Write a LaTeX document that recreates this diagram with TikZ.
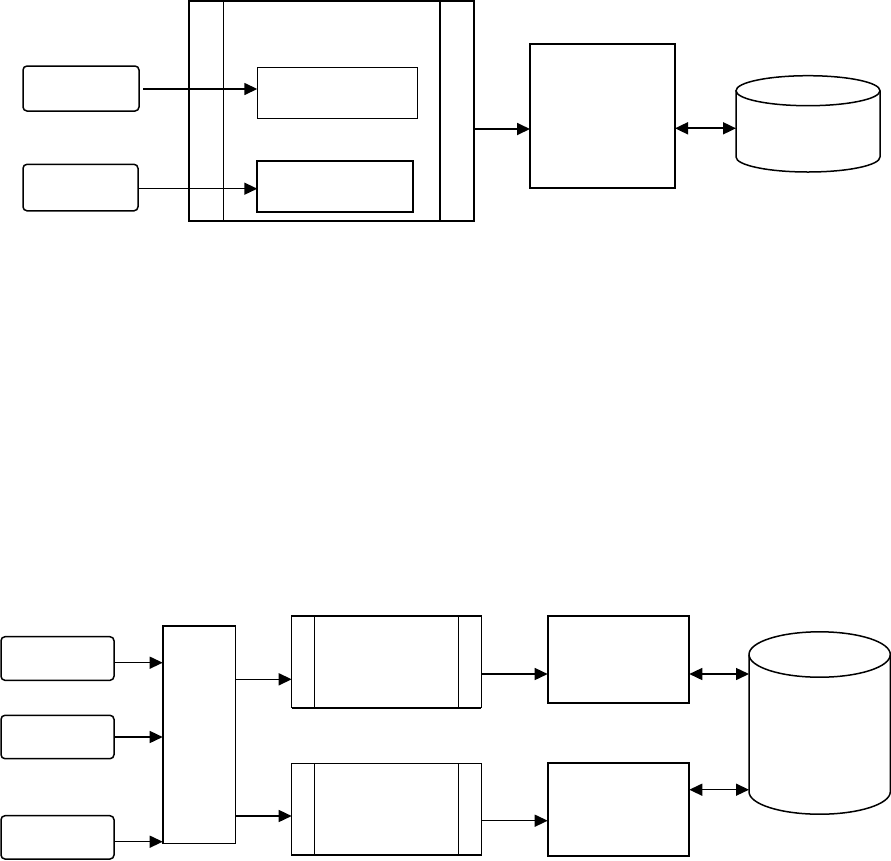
\documentclass[tikz,border=0pt]{standalone}
\usetikzlibrary{arrows.meta,calc}
\begin{document}
\begin{tikzpicture}[x=1pt,y=-1pt,
  thin box/.style={draw,line width=1.5pt,inner sep=0,outer sep=0,anchor=north west},
  thick box/.style={draw,line width=2.2pt,inner sep=0,outer sep=0,anchor=north west},
  rbox/.style={draw,line width=1.5pt,rounded corners=4pt,inner sep=0,outer sep=0,anchor=north west},
  ghost/.style={inner sep=0,outer sep=0,anchor=north west},
  arr/.style={line width=1.5pt,-{Triangle[length=13pt,width=12pt]}},
  darr/.style={line width=1.5pt,{Triangle[length=13pt,width=12pt]}-{Triangle[length=13pt,width=12pt]}},
  sep/.style={line width=1.5pt},
  cyl/.style={line width=1.5pt}]
\useasboundingbox (0,0) rectangle (891,860);
% ---------- top section ----------
\node[rbox,minimum width=116pt,minimum height=45pt] (r1) at (23,66) {};
\node[rbox,minimum width=115pt,minimum height=46.5pt] (r2) at (23,164.3) {};
\node[thick box,minimum width=285.3pt,minimum height=220pt] (cont) at (188.7,1) {};
\draw[sep] ([xshift=34.6pt]cont.north west) -- ([xshift=34.6pt]cont.south west);
\draw[line width=2.2pt] ([xshift=-33.7pt]cont.north east) -- ([xshift=-33.7pt]cont.south east);
\node[thin box,minimum width=160pt,minimum height=51pt] (in1) at (257.3,67.3) {};
\node[thick box,minimum width=156pt,minimum height=51.6pt] (in2) at (257.3,160.7) {};
\node[thick box,minimum width=145pt,minimum height=143.4pt] (b1) at (530,44.3) {};
% cylinder 1
\node[ghost,minimum width=144pt,minimum height=96pt] (db1) at (736,75.7) {};
\draw[cyl,fill=white] (736,90.7) -- (736,157) arc[start angle=180,end angle=360,x radius=72pt,y radius=15pt] -- (880,90.7);
\draw[cyl] (808,90.7) ellipse [x radius=72pt,y radius=15pt];
% connectors
\draw[arr,shorten <=4.3pt] (r1.east |- 0,89) -- (in1.west |- 0,89);
\draw[arr] (r2.east |- 0,188.7) -- (in2.west |- 0,188.7);
\draw[arr,line width=1.8pt] (cont.east |- 0,129) -- (b1.west |- 0,129);
\draw[darr,line width=1.8pt] (b1.east |- 0,128.3) -- (db1.west |- 0,128.3);
% ---------- bottom section ----------
\node[rbox,minimum width=113pt,minimum height=43.6pt] (r3) at (1,636.7) {};
\node[rbox,minimum width=113pt,minimum height=43.4pt] (r4) at (1,715.3) {};
\node[rbox,minimum width=113pt,minimum height=43.3pt] (r5) at (1,815.7) {};
\node[thin box,minimum width=73pt,minimum height=217.6pt] (T) at (162.7,625.7) {};
\draw[line width=2.2pt] (T.north west) -- (T.south west);
\draw[line width=2.2pt] (T.north west) -- (T.north east);
\node[thin box,minimum width=189.6pt,minimum height=92pt] (p1) at (291.7,615.7) {};
\draw[line width=2.2pt] (p1.north west) -- (p1.north east);
\draw[line width=2.2pt] (p1.south west) -- (p1.south east);
\draw[sep] ([xshift=22.6pt]p1.north west) -- ([xshift=22.6pt]p1.south west);
\draw[sep] ([xshift=-22.6pt]p1.north east) -- ([xshift=-22.6pt]p1.south east);
\node[thin box,minimum width=189.6pt,minimum height=91.7pt] (p2) at (291.7,763.3) {};
\draw[line width=2.2pt] (p2.south west) -- (p2.south east);
\draw[sep] ([xshift=22.6pt]p2.north west) -- ([xshift=22.6pt]p2.south west);
\draw[sep] ([xshift=-22.6pt]p2.north east) -- ([xshift=-22.6pt]p2.south east);
\node[thick box,minimum width=141.6pt,minimum height=87.3pt] (b2) at (547.7,615.7) {};
\node[thick box,minimum width=141.6pt,minimum height=93pt] (b3) at (547.7,763.3) {};
% cylinder 2
\node[ghost,minimum width=141.3pt,minimum height=182.3pt] (db2) at (749,631.7) {};
\draw[cyl,fill=white] (749,654.5) -- (749,791.7) arc[start angle=180,end angle=360,x radius=70.65pt,y radius=22.5pt] -- (890.3,654.5);
\draw[cyl] (819.65,654.5) ellipse [x radius=70.65pt,y radius=22.7pt];
% connectors
\draw[arr] (r3.east |- 0,662.7) -- (T.west |- 0,662.7);
\draw[arr] (r4.east |- 0,737) -- (T.west |- 0,737);
\draw[arr] (r5.east |- 0,841.7) -- (T.west |- 0,841.7);
\draw[arr] (T.east |- 0,679.3) -- (p1.west |- 0,679.3);
\draw[arr] (T.east |- 0,816) -- (p2.west |- 0,816);
\draw[arr] (p1.east |- 0,674) -- (b2.west |- 0,674);
\draw[arr] (p2.east |- 0,820.7) -- (b3.west |- 0,820.7);
\draw[darr] (b2.east |- 0,674) -- (db2.west |- 0,674);
\draw[darr] (b3.east |- 0,789.7) -- (db2.west |- 0,789.7);
\end{tikzpicture}
\end{document}
